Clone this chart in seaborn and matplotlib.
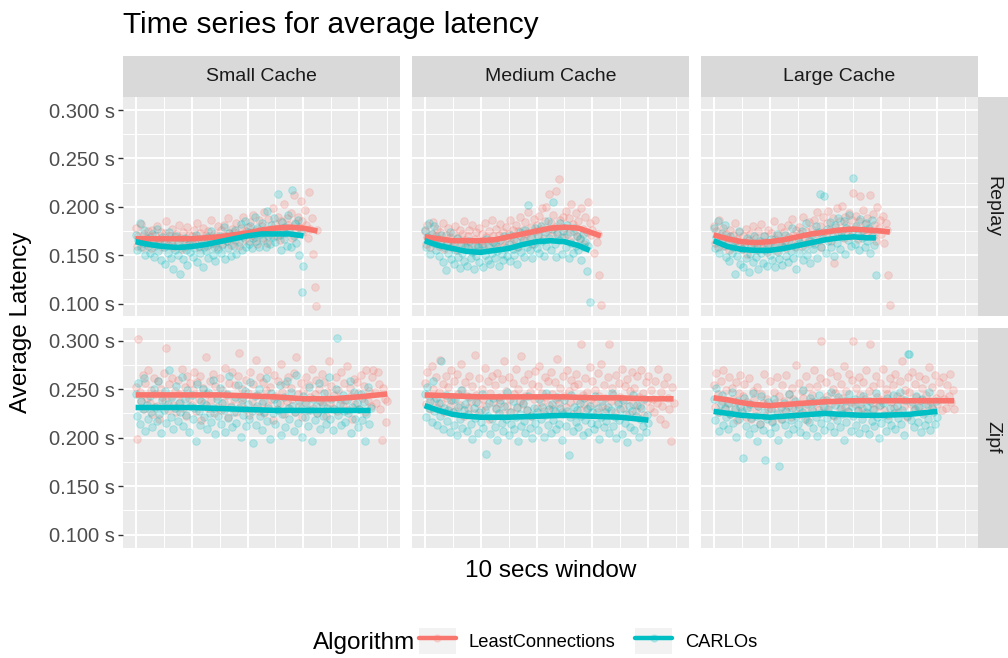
import numpy as np
import matplotlib
matplotlib.use("Agg")
import matplotlib.pyplot as plt
import seaborn as sns
from matplotlib.ticker import FuncFormatter, FixedLocator
from matplotlib.lines import Line2D
from matplotlib.patches import Patch
from matplotlib.legend_handler import HandlerTuple

# ---------------- data (latency in milliseconds) ----------------
ALGORITHMS = ["LeastConnections", "CARLOs"]
COLORS = {"LeastConnections": "#F8766D", "CARLOs": "#00BFC4"}
CACHES = ["Small Cache", "Medium Cache", "Large Cache"]
WORKLOADS = ["Replay", "Zipf"]
SAMPLE_STEP = 0.5  # two samples per 10-secs window

replay_small_lc = [178,160,170,165,182,158,172,168,163,175, 169,157,176,164,171,180,162,167,174,159,
    166,173,185,161,170,164,177,158,169,172, 163,181,168,156,174,167,160,179,171,165,
    170,162,176,168,183,159,173,166,178,164, 171,160,175,167,186,163,172,169,158,180,
    168,176,162,181,170,165,188,173,161,177, 174,166,183,170,160,178,172,189,167,175,
    179,165,184,171,192,169,176,162,186,174, 180,168,195,174,163,187,177,171,199,176,
    182,170,190,166,185,178,203,173,188,181, 176,194,168,212,183,172,190,179,206,185,
    174,197,181,168,215,177,188,151,117,98, 176]
replay_small_ca = [171,155,166,183,158,163,176,150,168,160, 152,165,172,148,160,177,154,163,145,169,
    158,141,166,152,174,147,161,136,155,170, 150,164,131,159,146,168,155,140,162,153,
    165,148,157,171,143,160,152,166,138,158, 154,169,147,162,175,150,158,144,166,156,
    170,152,161,179,146,165,157,173,149,168, 160,176,151,171,164,182,155,169,185,158,
    174,162,180,157,168,190,165,178,159,172, 183,166,175,158,196,170,162,181,169,188,
    164,177,213,171,155,184,167,179,160,192, 175,158,217,170,182,163,186,150,174,112, 139]
replay_medium_lc = [175,162,181,168,158,172,184,165,170,177, 160,174,166,183,156,171,163,178,169,158,
    173,164,180,155,168,176,161,172,185,166, 159,170,176,163,181,154,167,174,160,178,
    165,172,158,183,169,161,175,166,186,170, 163,177,157,171,182,165,174,160,179,168,
    172,186,163,176,167,181,158,175,189,170, 176,166,184,173,195,169,179,162,187,175,
    181,170,191,177,199,168,185,200,176,213, 183,171,192,179,216,174,229,186,169,190,
    178,196,172,188,165,203,182,175,194,170, 185,168,199,177,162,190,174,205,183,171,
    176,152,186,164,172,130,99]
replay_medium_ca = [176,158,169,183,151,172,163,180,155,167, 149,165,171,143,158,135,162,152,174,146,
    160,141,155,168,148,137,163,152,144,159, 139,157,165,147,153,136,161,149,158,143,
    155,162,138,150,167,145,158,141,152,164, 147,160,154,139,166,151,145,170,157,149,
    162,144,171,156,150,165,141,159,174,153, 166,148,176,158,202,155,169,147,162,178,
    157,171,152,180,165,149,174,160,185,168, 155,177,205,162,148,172,166,183,151,175,
    169,158,181,147,174,163,152,178,160,170, 155,167,145,172,158,164,134,160,102]
replay_large_lc = [180,163,175,158,186,170,165,178,160,172, 168,155,176,162,171,183,158,167,174,161,
    156,170,164,177,151,166,172,159,180,163, 168,155,175,161,182,157,170,164,153,176,
    162,173,158,185,167,154,171,163,179,160, 174,165,157,181,169,162,187,171,158,176,
    166,179,172,160,190,168,175,163,184,171, 177,164,186,173,195,166,180,158,189,174,
    170,183,196,176,165,188,142,179,199,172, 185,174,201,168,190,181,176,194,170,186,
    214,178,191,167,185,211,175,197,182,170, 188,176,212,170,193,181,165,200,178,186,
    172,191,163,183,176,130,99]
replay_large_ca = [178,157,169,185,152,166,173,160,181,148, 163,144,170,152,158,131,165,149,175,141,
    156,138,162,147,168,133,151,160,143,170, 148,159,136,165,152,142,170,155,139,161,
    150,167,145,158,138,172,153,146,163,140, 159,171,149,143,166,154,178,147,160,136,
    168,152,163,175,145,158,183,150,166,142, 171,156,162,180,147,174,213,159,168,211,
    152,177,165,184,158,170,149,181,163,188, 156,174,169,185,151,178,166,192,160,175,
    230,162,180,171,155,187,168,176,158,183, 165,178,152,186,170,161,130]

zipf_small_lc = [252,199,302,247,238,265,229,256,241,270, 236,249,224,261,245,233,258,219,250,242,
    267,238,292,228,255,243,261,234,248,226, 259,245,237,271,230,252,222,263,241,256,
    234,249,268,227,257,240,264,218,251,236, 283,245,230,258,239,266,225,253,243,232,
    261,228,249,237,272,244,221,256,233,268, 240,254,226,263,287,235,250,242,229,259,
    246,223,268,238,255,231,280,244,227,262, 236,257,225,249,270,233,252,240,218,265,
    243,229,258,236,276,247,224,255,238,262, 231,251,240,267,226,283,245,233,256,221,
    248,237,262,228,254,242,271,230,245,259, 225,250,238,266,234,257,222,247,279,236,
    253,231,244,262,227,249,240,268,233,256, 239,274,228,251,243,219,260,235,257,246,
    229,265,241,253,226,270,238,248,233,262, 270,247,236,268,255,229,198,251,240,216, 238]
zipf_small_ca = [245,222,256,214,238,229,261,207,234,219, 243,226,211,250,232,217,258,224,205,239,
    228,248,215,235,270,221,242,209,231,253, 217,236,226,262,212,240,223,249,206,233,
    244,219,230,196,255,227,213,238,250,221, 234,209,247,225,216,259,231,204,240,222,
    251,214,236,228,206,245,220,263,232,211, 226,242,215,254,230,201,239,223,248,212,
    235,219,257,227,194,243,213,233,250,222, 208,238,226,261,217,231,199,246,225,240,
    214,236,228,254,203,224,242,211,258,230, 219,247,233,207,226,265,215,238,229,201,
    243,221,236,212,252,228,197,240,218,233, 225,256,209,237,222,246,214,231,262,219,
    240,208,229,250,303,223,235,213,244,227, 216,239,225,258,205,232,247,219,236,211,
    229,245,218,237,196,224,252,214,230]
zipf_medium_lc = [256,235,268,243,229,274,250,238,262,231, 247,280,236,255,226,263,241,252,233,270,
    239,258,227,266,245,234,276,249,222,257, 243,231,264,238,253,225,285,244,236,261,
    228,250,240,272,233,258,219,246,263,237, 254,229,267,242,236,260,225,279,248,233,
    262,240,226,256,245,271,231,250,238,284, 235,259,243,228,266,247,222,255,240,269,
    231,253,274,237,246,227,262,242,258,234, 268,245,229,257,240,281,236,251,226,263,
    243,232,270,248,237,259,224,253,266,239, 255,228,296,244,235,261,247,231,273,240,
    258,236,249,226,267,243,276,233,254,241, 229,262,296,238,251,244,226,265,237,256,
    242,271,230,253,239,260,224,248,268,235, 251,227,263,242,233,270,246,223,257,238,
    264,231,249,240,226,258,236,271,219,247, 233,255,214,262,241,229,197,252,236]
zipf_medium_ca = [245,221,252,230,238,216,258,227,241,213, 236,222,279,209,231,244,217,228,206,239,
    226,213,240,203,232,219,249,210,228,235, 207,224,242,214,199,231,220,237,205,226,
    216,245,210,228,183,222,236,204,219,241, 211,230,198,225,239,215,207,233,219,247,
    203,226,214,238,209,221,232,196,224,212, 236,217,205,228,243,210,222,200,231,215,
    226,208,240,219,232,201,223,246,213,229, 205,235,218,227,209,242,214,231,198,224,
    239,212,227,182,221,244,207,232,216,228, 211,236,222,203,241,218,229,206,233,215,
    226,209,243,214,230,199,221,238,211,226, 217,232,205,228,246,212,221,200,235,218,
    229,204,239,215,224,195,233,211,227,244, 208,222,234,201,219,230,212,240,206,223, 215]
zipf_large_lc = [254,232,267,245,226,258,238,270,229,249, 236,262,224,251,240,230,257,218,246,265,
    228,243,255,221,237,261,232,219,248,240, 225,252,233,214,245,236,266,222,240,229,
    258,231,217,247,236,262,226,243,219,254, 238,228,265,233,245,221,251,240,229,275,
    235,256,224,248,241,230,263,218,252,237, 244,227,270,236,253,228,261,300,239,232,
    257,243,226,268,235,250,222,246,263,238, 229,255,241,274,232,248,226,266,237,259,
    300,235,251,227,262,244,231,257,240,270, 225,248,297,236,253,229,264,242,233,256,
    239,271,228,250,245,223,261,237,254,231, 266,243,226,258,240,279,233,249,221,262,
    247,235,268,228,255,242,232,263,239,251, 226,260,244,234,273,238,252,229,265,241,
    235,257,246,228,262,240,231,254,243,266, 237,249,229]
zipf_large_ca = [240,218,251,226,207,235,244,213,230,221, 209,236,224,247,215,229,201,238,219,232,
    226,179,241,212,230,204,235,220,246,210, 222,197,233,214,243,208,226,177,219,237,
    205,229,216,240,211,224,198,171,232,219, 236,213,227,204,245,218,230,209,238,222,
    214,232,206,226,249,219,203,235,216,241, 228,210,237,221,202,244,225,215,233,208,
    239,220,229,212,247,223,206,234,218,242, 211,230,224,198,238,216,227,245,207,233,
    222,240,213,228,205,235,219,243,210,226, 232,204,238,217,229,212,246,221,200,234,
    215,236,223,207,241,219,230,213,244,225, 209,233,220,247,214,228,203,239,222,286,
    286,218,237,211,229,243,216,232,206,240, 224,213,235,219,247,208,231,226,214,238, 221]

# smoothed trend (loess-like) read at window positions
sm_replay_small_lc_w = [0,5,10,15,20,25,30,35,40,45,50,55,60,65]
sm_replay_small_lc   = [167,167,167,167,167,168,169,171,173,176,178,179,178,175]
sm_replay_small_ca_w = [0,5,10,15,20,25,30,35,40,45,50,55,60]
sm_replay_small_ca   = [164,161,159,158,159,161,164,167,170,172,172,172,170]
sm_replay_medium_lc_w = [0,5,10,15,20,25,30,35,40,45,50,55,60,63]
sm_replay_medium_lc   = [169,167,165,165,165,166,169,172,175,178,179,178,173,170]
sm_replay_medium_ca_w = [0,5,10,15,20,25,30,35,40,45,50,55,59]
sm_replay_medium_ca   = [165,160,157,154,153,155,157,161,164,165,164,160,155]
sm_replay_large_lc_w = [0,5,10,15,20,25,30,35,40,45,50,55,60,63]
sm_replay_large_lc   = [171,167,164,163,164,166,169,172,174,176,177,176,175,174]
sm_replay_large_ca_w = [0,5,10,15,20,25,30,35,40,45,50,55,58]
sm_replay_large_ca   = [165,159,156,155,155,157,160,163,166,168,169,168,168]
sm_zipf_small_lc_w = [0,10,20,30,40,50,60,70,80,90]
sm_zipf_small_lc   = [244,244,244,244,243,242,240,240,242,245]
sm_zipf_small_ca_w = [0,10,20,30,40,50,60,70,80,84]
sm_zipf_small_ca   = [231,231,231,230,229,228,228,228,228,228]
sm_zipf_medium_lc_w = [0,10,20,30,40,50,60,70,80,89]
sm_zipf_medium_lc   = [244,243,242,242,242,242,241,241,240,240]
sm_zipf_medium_ca_w = [0,5,10,15,20,30,40,50,60,70,80]
sm_zipf_medium_ca   = [233,228,224,222,221,221,222,223,222,221,218]
sm_zipf_large_lc_w = [0,5,10,15,20,25,30,35,40,50,60,70,80,86]
sm_zipf_large_lc   = [241,239,236,234,233,234,235,236,237,238,238,238,238,238]
sm_zipf_large_ca_w = [0,5,10,20,30,40,45,53,60,70,80]
sm_zipf_large_ca   = [227,225,223,221,223,225,224,223,223,224,227]

PANELS = {
    ("Replay", "Small Cache"): [(replay_small_lc, sm_replay_small_lc_w, sm_replay_small_lc),
                                (replay_small_ca, sm_replay_small_ca_w, sm_replay_small_ca)],
    ("Replay", "Medium Cache"): [(replay_medium_lc, sm_replay_medium_lc_w, sm_replay_medium_lc),
                                 (replay_medium_ca, sm_replay_medium_ca_w, sm_replay_medium_ca)],
    ("Replay", "Large Cache"): [(replay_large_lc, sm_replay_large_lc_w, sm_replay_large_lc),
                                (replay_large_ca, sm_replay_large_ca_w, sm_replay_large_ca)],
    ("Zipf", "Small Cache"): [(zipf_small_lc, sm_zipf_small_lc_w, sm_zipf_small_lc),
                              (zipf_small_ca, sm_zipf_small_ca_w, sm_zipf_small_ca)],
    ("Zipf", "Medium Cache"): [(zipf_medium_lc, sm_zipf_medium_lc_w, sm_zipf_medium_lc),
                               (zipf_medium_ca, sm_zipf_medium_ca_w, sm_zipf_medium_ca)],
    ("Zipf", "Large Cache"): [(zipf_large_lc, sm_zipf_large_lc_w, sm_zipf_large_lc),
                              (zipf_large_ca, sm_zipf_large_ca_w, sm_zipf_large_ca)],
}

# ---------------- figure ----------------
sns.set_theme(style="darkgrid")
plt.rcParams['font.family'] = ['Liberation Sans', 'DejaVu Sans']

W, H = 1008, 658
fig = plt.figure(figsize=(W / 100, H / 100), dpi=100)
fig.patch.set_facecolor("white")


def fbox(x0, y0, x1, y1):
    return [x0 / W, 1 - y1 / H, (x1 - x0) / W, (y1 - y0) / H]


COL_X = [123, 412, 701]
PW = 277
ROW_Y = [(97, 316.5), (327.5, 547.5)]
YLIM = (0.0867, 0.3135)
XLIM = (-4.5, 94.5)

for r, wl in enumerate(WORKLOADS):
    for c, cache in enumerate(CACHES):
        x0 = COL_X[c]
        y0, y1 = ROW_Y[r]
        ax = fig.add_axes(fbox(x0, y0, x0 + PW, y1))
        ax.set_facecolor("#EBEBEB")
        for alg, (vals, sw, sv) in zip(ALGORITHMS, PANELS[(wl, cache)]):
            xs = np.arange(len(vals)) * SAMPLE_STEP
            ys = np.array(vals) / 1000.0
            sns.scatterplot(x=xs, y=ys, color=COLORS[alg], alpha=0.22, s=30,
                            edgecolor=COLORS[alg], linewidth=0.7, ax=ax, legend=False, zorder=2)
        for alg, (vals, sw, sv) in zip(ALGORITHMS, PANELS[(wl, cache)]):
            sns.lineplot(x=sw, y=np.array(sv) / 1000.0, color=COLORS[alg], lw=4.0,
                         ax=ax, legend=False, zorder=3, solid_capstyle="butt")
        ax.set_xlim(*XLIM)
        ax.set_ylim(*YLIM)
        ax.xaxis.set_major_locator(FixedLocator([0, 20, 40, 60, 80]))
        ax.xaxis.set_minor_locator(FixedLocator([10, 30, 50, 70, 90]))
        ax.yaxis.set_major_locator(FixedLocator([0.10, 0.15, 0.20, 0.25, 0.30]))
        ax.yaxis.set_minor_locator(FixedLocator([0.125, 0.175, 0.225, 0.275]))
        ax.grid(which="major", color="white", lw=1.4)
        ax.grid(which="minor", color="white", lw=0.7)
        ax.set_axisbelow(True)
        for s in ax.spines.values():
            s.set_visible(False)
        ax.set_xlabel("")
        ax.set_ylabel("")
        ax.tick_params(axis="x", which="both", length=0, labelbottom=False)
        ax.tick_params(axis="y", which="minor", length=0)
        if c == 0:
            ax.yaxis.set_major_formatter(FuncFormatter(lambda v, p: f"{v:.3f} s"))
            ax.tick_params(axis="y", which="major", length=3.6, width=1.0, color="#333333",
                           labelcolor="#4D4D4D", labelsize=14.5, pad=2, left=True)
        else:
            ax.tick_params(axis="y", which="major", length=0, labelleft=False)

# top strips
for c, cache in enumerate(CACHES):
    sax = fig.add_axes(fbox(COL_X[c], 56, COL_X[c] + PW, 97))
    sax.set_facecolor("#D9D9D9")
    sax.set_xticks([]); sax.set_yticks([])
    for s in sax.spines.values():
        s.set_visible(False)
    sax.text(0.5, 0.5, cache, ha="center", va="center", fontsize=14, color="#1A1A1A",
             transform=sax.transAxes)

# right strips
for r, wl in enumerate(WORKLOADS):
    y0, y1 = ROW_Y[r]
    sax = fig.add_axes(fbox(978, y0, 1008, y1))
    sax.set_facecolor("#D9D9D9")
    sax.set_xticks([]); sax.set_yticks([])
    for s in sax.spines.values():
        s.set_visible(False)
    sax.text(0.5, 0.5, wl, ha="center", va="center", fontsize=14, color="#1A1A1A",
             rotation=-90, transform=sax.transAxes)

# titles
fig.text(123 / W, 1 - 25 / H, "Time series for average latency", fontsize=21.5,
         ha="left", va="center", color="black")
fig.text(550.5 / W, 1 - 571 / H, "10 secs window", fontsize=17.5, ha="center",
         va="center", color="black")
fig.text(21 / W, 1 - 322 / H, "Average Latency", fontsize=17.5, ha="center",
         va="center", rotation=90, color="black")

# legend
fig.text(313 / W, 1 - 643 / H, "Algorithm", fontsize=17.5, ha="left", va="center",
         color="black")
handles = []
for alg in ALGORITHMS:
    handles.append((Patch(facecolor="#F2F2F2", edgecolor="none"),
                    Line2D([], [], color=COLORS[alg], lw=0, marker="o", markersize=5,
                           alpha=0.2),
                    Line2D([], [], color=COLORS[alg], lw=3.2)))
fig.legend(handles=handles, labels=ALGORITHMS,
           handler_map={tuple: HandlerTuple(ndivide=1, pad=0)},
           loc="center left", bbox_to_anchor=(419 / W, 1 - 641 / H), ncol=2,
           frameon=False, fontsize=13.2, handlelength=2.0, handleheight=1.75,
           handletextpad=0.7, columnspacing=1.1, borderpad=0, borderaxespad=0,
           labelcolor="black")

fig.savefig("out.png", dpi=100, facecolor="white")
